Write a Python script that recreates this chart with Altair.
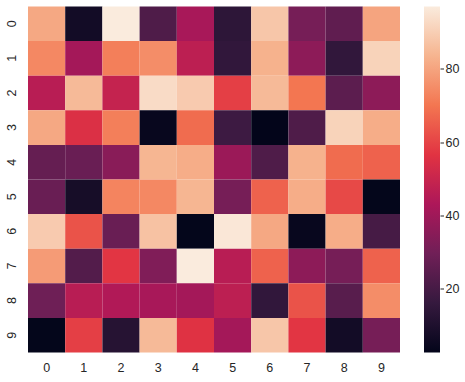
import altair as alt
import pandas as pd

columns = ["0", "1", "2", "3", "4", "5", "6", "7", "8", "9"]
rows = ["0", "1", "2", "3", "4", "5", "6", "7", "8", "9"]

row_0 = [81, 7, 97, 22, 42, 14, 88, 31, 26, 80]
row_1 = [74, 41, 72, 75, 47, 15, 83, 36, 15, 91]
row_2 = [46, 85, 49, 93, 89, 59, 85, 70, 25, 36]
row_3 = [81, 55, 72, 4, 68, 18, 2.6, 22, 91, 82]
row_4 = [27, 28, 35, 84, 82, 39, 22, 83, 68, 66]
row_5 = [28, 8, 73, 74, 84, 31, 66, 82, 61, 3]
row_6 = [89, 63, 28, 87, 3, 96, 81, 4, 82, 20]
row_7 = [78, 23, 57, 33, 97, 46, 66, 36, 31, 66]
row_8 = [29, 46, 44, 42, 41, 47, 15, 63, 24, 75]
row_9 = [3, 59, 12, 85, 56, 41, 88, 57, 7, 31]

grid = [row_0, row_1, row_2, row_3, row_4, row_5, row_6, row_7, row_8, row_9]

rocket = ["#03051a", "#35193e", "#701f57", "#ad1759",
          "#e13342", "#f37651", "#f6b48f", "#faebdd"]

records = []
for r, vals in zip(rows, grid):
    for c, v in zip(columns, vals):
        records.append({"row": r, "col": c, "value": v})
df = pd.DataFrame(records)

vmin = min(min(r) for r in grid)
vmax = max(max(r) for r in grid)

FONT = "Liberation Sans"
TXT = "#262626"
FS = 12.5

color_scale = alt.Scale(domain=[vmin, vmax], range=rocket, interpolate="rgb")

heat = alt.Chart(df).mark_rect().encode(
    x=alt.X("col:O", sort=columns, title=None,
            scale=alt.Scale(paddingInner=0, paddingOuter=0),
            axis=alt.Axis(labelAngle=0, ticks=False, domain=False,
                          labelPadding=9, labelFontSize=FS, labelFont=FONT,
                          labelColor=TXT)),
    y=alt.Y("row:O", sort=rows, title=None,
            scale=alt.Scale(paddingInner=0, paddingOuter=0),
            axis=alt.Axis(labelAngle=-90, ticks=False, domain=False,
                          labelPadding=9.5, labelFontSize=FS, labelFont=FONT,
                          labelColor=TXT, labelAlign="center",
                          labelBaseline="bottom")),
    color=alt.Color("value:Q", scale=color_scale, legend=None),
).properties(width=372, height=346)

stops = [alt.GradientStop(offset=i / (len(rocket) - 1), color=c)
         for i, c in enumerate(rocket)]
cb_df = pd.DataFrame({"lo": [vmin], "hi": [vmax]})
colorbar = alt.Chart(cb_df).mark_rect(
    color=alt.LinearGradient(gradient="linear", stops=stops,
                             x1=0, x2=0, y1=1, y2=0)
).encode(
    y=alt.Y("lo:Q", title=None,
            scale=alt.Scale(domain=[vmin, vmax], nice=False, zero=False),
            axis=alt.Axis(orient="right", values=[20, 40, 60, 80],
                          domain=False, grid=False, tickSize=3.5,
                          tickColor=TXT, tickWidth=1, labelPadding=1.5,
                          labelFontSize=FS, labelFont=FONT, labelColor=TXT)),
    y2="hi:Q",
).properties(width=16, height=346)

chart = alt.hconcat(heat, colorbar, spacing=24).properties(
    padding={"left": 5, "top": 6.5, "right": 5, "bottom": 5},
    background="white",
).configure_view(stroke=None)

chart.save("out.html", embed_options={"renderer": "svg", "actions": False})
